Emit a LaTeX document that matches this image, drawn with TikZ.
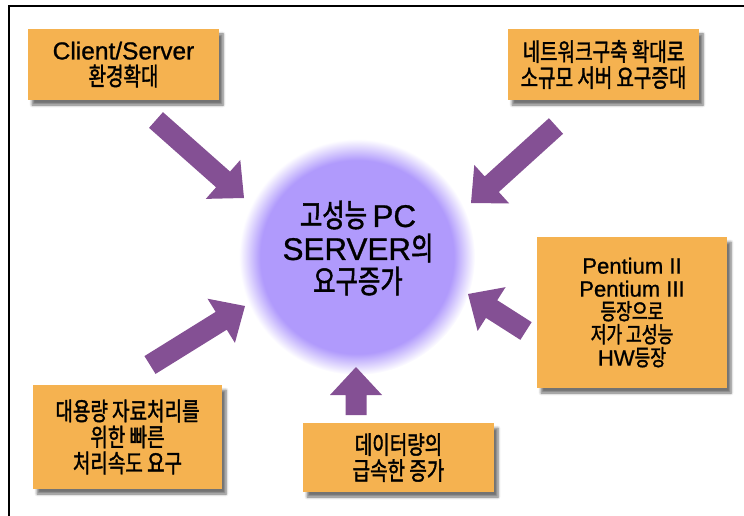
\documentclass[tikz,border=0pt]{standalone}
\usepackage{fontspec}
\setmainfont{Noto Sans CJK KR}[FakeStretch=0.76, FakeBold=1.5]
\newfontfamily\lat{Liberation Sans}[Scale=0.98, FakeBold=0.9]
\usetikzlibrary{calc,shadows.blur}
\definecolor{boxfill}{RGB}{245,178,80}
\definecolor{arrowc}{RGB}{132,80,148}
\definecolor{lav}{RGB}{176,154,252}
\pgfdeclareradialshading{glow}{\pgfpoint{0bp}{0bp}}{color(0bp)=(lav); color(20.5bp)=(lav); color(25bp)=(white); color(50bp)=(white)}
\newcommand\fatarrow[2]{%
  \path ($(#2)!28pt!(#1)$) coordinate (#2-h);
  \fill[arrowc] ($(#1)!10.5pt!90:(#2)$) -- ($(#2-h)!10.5pt!90:(#2)$) -- ($(#2-h)!26pt!90:(#2)$) -- (#2)
    -- ($(#2-h)!26pt!-90:(#2)$) -- ($(#2-h)!10.5pt!-90:(#2)$) -- ($(#1)!10.5pt!-90:(#2)$) -- cycle;}
\newcommand\la[1]{{\lat #1}}
\begin{document}
\begin{tikzpicture}[x=1pt,y=-1pt,
  box/.style={fill=boxfill, draw=none, align=center, inner sep=0pt,
    blur shadow={shadow xshift=4pt, shadow yshift=-5pt, shadow blur radius=2.5pt, shadow blur steps=6, shadow opacity=55},
    font=\fontsize{25}{26}\selectfont},
  srvtext/.style={align=center, font=\fontsize{32}{33}\selectfont}]
\useasboundingbox (0,0) rectangle (744,516);
\draw[line width=1.4pt] (9,516) -- (9,6) -- (744,6);
% central glow
\node[circle, minimum size=236pt, inner sep=0pt, shading=glow] (srv) at (357,257) {};
\node[srvtext] (srvlabel) at (358,248) {고성능 \la{PC}\\\la{SERVER}의\\요구증가};
% boxes
\node[box, minimum width=191pt, minimum height=71pt] (b1) at (123.5,64.5) {\la{Client/Server}\\환경확대};
\node[box, minimum width=191pt, minimum height=71pt] (b2) at (603.5,64.5) {네트워크구축 확대로\\소규모 서버 요구증대};
\node[box, minimum width=190pt, minimum height=151pt, font=\fontsize{22.5}{23}\selectfont] (b3) at (632,312.5) {\la{Pentium II}\\\la{Pentium III}\\등장으로\\저가 고성능\\\la{HW}등장};
\node[box, minimum width=189pt, minimum height=104pt] (b4) at (127.5,437) {대용량 자료처리를\\위한 빠른\\처리속도 요구};
\node[box, minimum width=191pt, minimum height=69pt] (b5) at (398.5,457.5) {데이터량의\\급속한 증가};
% arrows
\coordinate (a1t) at (156,120); \coordinate (a1h) at (244,198);
\coordinate (a2t) at (556,126); \coordinate (a2h) at (471,203);
\coordinate (a3t) at (526,331); \coordinate (a3h) at (468,294);
\coordinate (a4t) at (150,365); \coordinate (a4h) at (245,306);
\coordinate (a5t) at (356,415); \coordinate (a5h) at (356,367);
\fatarrow{a1t}{a1h}
\fatarrow{a2t}{a2h}
\fatarrow{a3t}{a3h}
\fatarrow{a4t}{a4h}
\fatarrow{a5t}{a5h}
\end{tikzpicture}
\end{document}
